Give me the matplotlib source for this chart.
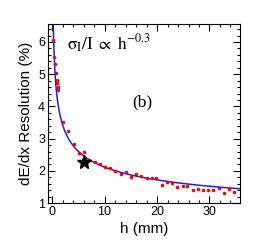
import matplotlib
matplotlib.use('Agg')
import matplotlib.pyplot as plt
import numpy as np
from matplotlib.ticker import MultipleLocator

# measured resolution vs distance h
h_mm = [0.25, 0.45, 0.57, 0.7, 0.9, 1.0, 1.1, 1.2,
        2.1, 3.1, 4.1, 5.1, 6.1, 7.1, 8.1, 9.1, 10.1, 11.05, 12.05,
        13.1, 14.0, 15.0, 16.0, 17.0, 18.0, 19.0, 19.9, 20.9, 21.9,
        22.9, 23.9, 24.9, 25.8, 26.8, 27.8, 28.8, 29.8, 30.7, 31.8,
        32.8, 33.8, 34.7]
resolution = [6.05, 5.54, 5.31, 5.05, 4.82, 4.72, 4.61, 4.50,
              3.51, 3.24, 2.83, 2.54, 2.59, 2.34, 2.27, 2.20, 2.13, 2.09, 1.99,
              1.91, 1.97, 1.82, 1.89, 1.84, 1.78, 1.78, 1.77, 1.56, 1.65,
              1.62, 1.51, 1.53, 1.53, 1.41, 1.44, 1.40, 1.40, 1.40, 1.48,
              1.32, 1.43, 1.34]

# star marker (reference point)
star_h = [6.0]
star_res = [2.26]

# power-law fit: res = A * h^b
fit_A = 4.22
fit_b = -0.3


def plot_graph(output_filename):
    fig = plt.figure(figsize=(2.66, 2.42), dpi=100)
    ax = fig.add_axes([0.180, 0.161, 0.722, 0.740])

    hh = np.linspace(0.2, 36, 400)
    ax.plot(hh, fit_A * hh ** fit_b, color='#2020e0', lw=1.1, zorder=2)
    ax.plot(h_mm, resolution, 'o', color='red', ms=2.6, mew=0, zorder=3)
    ax.plot(star_h, star_res, '*', color='black', ms=10, zorder=4)

    ax.set_xlim(-0.8, 35.8)
    ax.set_ylim(1, 6.56)

    ax.xaxis.set_major_locator(MultipleLocator(10))
    ax.xaxis.set_minor_locator(MultipleLocator(2))
    ax.yaxis.set_major_locator(MultipleLocator(1))
    ax.yaxis.set_minor_locator(MultipleLocator(0.2))
    ax.tick_params(which='both', direction='in', top=True, right=True,
                   labelsize=9, width=0.8, pad=2)
    ax.tick_params(which='major', length=5)
    ax.tick_params(which='minor', length=2.5)
    for lab in ax.get_xticklabels() + ax.get_yticklabels():
        lab.set_fontfamily('Liberation Sans')
    for sp in ax.spines.values():
        sp.set_linewidth(0.8)

    ax.set_xlabel('h (mm)', fontsize=11, family='Liberation Sans', labelpad=3)
    ax.set_ylabel('dE/dx Resolution (%)', fontsize=11,
                  family='Liberation Sans', labelpad=4)

    ax.text(2.9, 5.95, r'$\mathrm{\sigma_I/I\ \propto\ h^{-0.3}}$', fontsize=12.5,
            math_fontfamily='stix', va='center', ha='left')
    ax.text(17.2, 4.12, '(b)', fontsize=12.5, family='Liberation Serif',
            va='center', ha='center')

    fig.savefig(output_filename, dpi=100)
    plt.close(fig)


def main():
    plot_graph('out.png')


if __name__ == '__main__':
    main()
